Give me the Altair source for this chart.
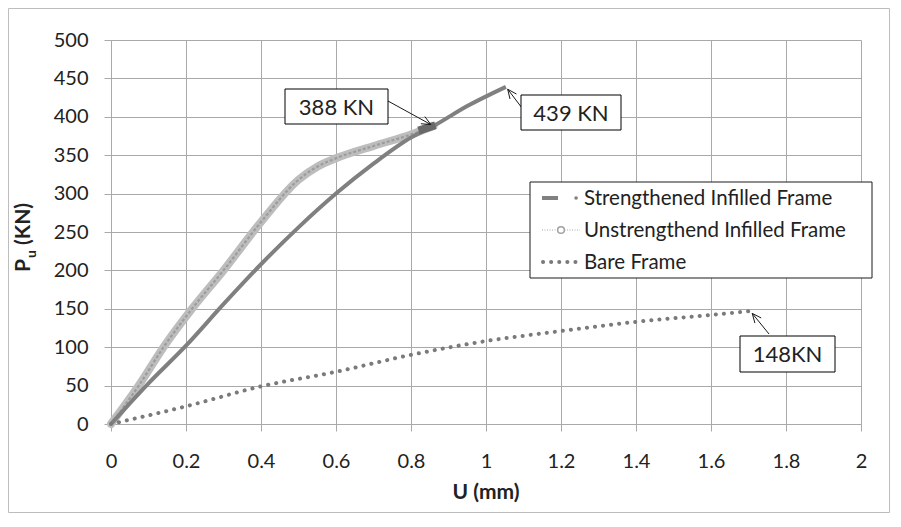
import math
import altair as alt
import pandas as pd

# ---- data ----
str_u = [0, 0.1, 0.2, 0.3, 0.4, 0.5, 0.6, 0.7, 0.8, 0.86, 0.95, 1.053]
str_p = [0, 53, 102, 156, 208, 256, 300, 339, 373, 388, 414, 439]

uns_u = [0, 0.074, 0.14, 0.216, 0.3, 0.4, 0.5, 0.55, 0.6, 0.7, 0.8, 0.86]
uns_p = [0, 50, 100, 150, 200, 263, 318, 335, 346, 362, 377, 388]

bare_u = [0, 0.2, 0.4, 0.6, 0.8, 1.0, 1.2, 1.4, 1.6, 1.705]
bare_p = [0, 23, 49, 68, 90, 108, 121, 133, 142, 147]

blob_u = [0.82, 0.865]
blob_p = [382, 389]

x_ticks = [0, 0.2, 0.4, 0.6, 0.8, 1.0, 1.2, 1.4, 1.6, 1.8, 2.0]
y_ticks = [0, 50, 100, 150, 200, 250, 300, 350, 400, 450, 500]

series_names = ["Strengthened Infilled Frame", "Unstrengthend Infilled Frame", "Bare Frame"]
annot_text = ["388 KN", "439 KN", "148KN"]
annot_u = [0.86, 1.053, 1.705]
annot_p = [388, 439, 147]

# ---- layout ----
W, H = 750, 384
FONT = "Lato"
GRID = "#a9a9a9"

def px_x(u):
    return u / 2.0 * W

def px_y(p):
    return H - p / 500.0 * H

xs = alt.Scale(domain=[0, 2], nice=False, zero=False)
ys = alt.Scale(domain=[0, 500], nice=False)

x_enc = alt.X("u:Q", scale=xs, axis=alt.Axis(values=x_ticks, format="~g", title=None,
              grid=True, gridColor=GRID, domainColor=GRID, tickColor=GRID,
              tickSize=7, labelPadding=20, labelFontSize=20, labelFont=FONT,
              labelColor="#222222", labelFlush=False))
y_enc = alt.Y("p:Q", scale=ys, axis=alt.Axis(values=y_ticks, title=None,
              grid=True, gridColor=GRID, domainColor=GRID, tickColor=GRID,
              tickSize=7, labelPadding=16, labelFontSize=20, labelFont=FONT,
              labelColor="#222222"))

df_str = pd.DataFrame({"u": str_u, "p": str_p, "o": range(len(str_u))})
df_uns = pd.DataFrame({"u": uns_u, "p": uns_p, "o": range(len(uns_u))})
df_bare = pd.DataFrame({"u": bare_u, "p": bare_p, "o": range(len(bare_u))})
df_blob = pd.DataFrame({"u": blob_u, "p": blob_p, "o": range(len(blob_u))})

INTERP = "monotone"
layers = []
layers.append(alt.Chart(df_uns).mark_line(color="#bdbdbd", strokeWidth=8, strokeCap="round",
                                          interpolate=INTERP)
              .encode(x=x_enc, y=y_enc, order="o:Q"))
layers.append(alt.Chart(df_uns).mark_line(color="#9c9c9c", strokeWidth=2.2, strokeDash=[3, 2],
                                          interpolate=INTERP)
              .encode(x=x_enc, y=y_enc, order="o:Q"))
layers.append(alt.Chart(df_str).mark_line(color="#808080", strokeWidth=4, interpolate=INTERP)
              .encode(x=x_enc, y=y_enc, order="o:Q"))
layers.append(alt.Chart(df_blob).mark_line(color="#696969", strokeWidth=8)
              .encode(x=x_enc, y=y_enc, order="o:Q"))
layers.append(alt.Chart(df_bare).mark_line(color="#7a7a7a", strokeWidth=4, strokeDash=[0.1, 8],
                                           strokeCap="round", interpolate=INTERP)
              .encode(x=x_enc, y=y_enc, order="o:Q"))

one = pd.DataFrame({"a": [0]})

def txt(x, y, s, size, bold=False, align="center", baseline="middle", angle=0, color="#222222"):
    return alt.Chart(one).mark_text(text=s, fontSize=size, font=FONT,
                                    fontWeight="bold" if bold else "normal",
                                    align=align, baseline=baseline, angle=angle,
                                    color=color).encode(x=alt.value(x), y=alt.value(y))

def rule(x1, y1, x2, y2, color="#000000", width=1.0, dash=None, cap="butt"):
    kw = dict(color=color, strokeWidth=width, strokeCap=cap)
    if dash:
        kw["strokeDash"] = dash
    return alt.Chart(one).mark_rule(**kw).encode(
        x=alt.value(x1), y=alt.value(y1), x2=alt.value(x2), y2=alt.value(y2))

def rect(x1, y1, x2, y2, fill="#ffffff", stroke="#000000", sw=1.0, fill_opacity=1.0):
    return alt.Chart(one).mark_rect(fill=fill, fillOpacity=fill_opacity, stroke=stroke,
                                    strokeWidth=sw).encode(
        x=alt.value(x1), y=alt.value(y1), x2=alt.value(x2), y2=alt.value(y2))

def arrow(tx, ty, tipx, tipy):
    out = [rule(tx, ty, tipx, tipy, color="#1a1a1a", width=1)]
    ang = math.atan2(ty - tipy, tx - tipx)
    L, a = 10, math.radians(24)
    for s in (-1, 1):
        out.append(rule(tipx, tipy, tipx + L * math.cos(ang + s * a),
                        tipy + L * math.sin(ang + s * a), color="#1a1a1a", width=1))
    return out

# annotation boxes (pixel boxes, arrow tips tied to data points)
boxes = [(174, 49, 277, 84), (410, 55, 510, 90), (629, 296, 724, 332)]
tails = [(277, 61), (411, 68), (658, 294)]
for (bx1, by1, bx2, by2), (tx, ty), s, u, p in zip(boxes, tails, annot_text, annot_u, annot_p):
    tipx, tipy = px_x(u), px_y(p)
    d = math.hypot(tx - tipx, ty - tipy)
    tipx2 = tipx + (tx - tipx) * 3 / d
    tipy2 = tipy + (ty - tipy) * 3 / d
    layers += arrow(tx, ty, tipx2, tipy2)
    layers.append(rect(bx1, by1, bx2, by2))
    layers.append(txt((bx1 + bx2) / 2, (by1 + by2) / 2 + 1, s, 22))

# legend
lx1, ly1, lx2, ly2 = 419, 142, 761, 238
layers.append(rect(lx1, ly1, lx2, ly2, stroke="#1a1a1a"))
rows = [158, 190, 222]
layers.append(rule(431, rows[0], 447, rows[0], color="#808080", width=4))
layers.append(rule(465, rows[0], 465.1, rows[0], color="#808080", width=3.5, cap="round"))
layers.append(rule(431, rows[1], 469, rows[1], color="#a8a8a8", width=1, dash=[1, 1.5]))
layers.append(alt.Chart(one).mark_point(shape="circle", size=45, filled=True, fill="#ffffff",
                                        stroke="#a0a0a0", strokeWidth=1.5, opacity=1)
              .encode(x=alt.value(450), y=alt.value(rows[1])))
layers.append(rule(432, rows[2], 470, rows[2], color="#7a7a7a", width=4, dash=[0.1, 8], cap="round"))
for r, name in zip(rows, series_names):
    layers.append(txt(473, r + 1, name, 20.5, align="left"))

# axis titles
layers.append(txt(W / 2, 453, "U (mm)", 21, bold=True))
layers.append(txt(-81, 232, "P", 21, bold=True, align="left", baseline="alphabetic", angle=270))
layers.append(txt(-75, 218, "u", 14, bold=True, align="left", baseline="alphabetic", angle=270))
layers.append(txt(-81, 205, "(KN)", 21, bold=True, align="left", baseline="alphabetic", angle=270))

# outer chart border
layers.append(rect(-102.5, -31.5, 778.5, 472.5, fill="#ffffff", stroke="#bdbdbd", fill_opacity=0))

chart = alt.layer(*layers).properties(
    width=W, height=H,
    autosize=alt.AutoSizeParams(type="none"),
    padding={"left": 103, "top": 32, "right": 29, "bottom": 89},
    background="#ffffff",
).configure_view(strokeWidth=0)

chart.save("out.html", embed_options={"renderer": "svg", "actions": False})
